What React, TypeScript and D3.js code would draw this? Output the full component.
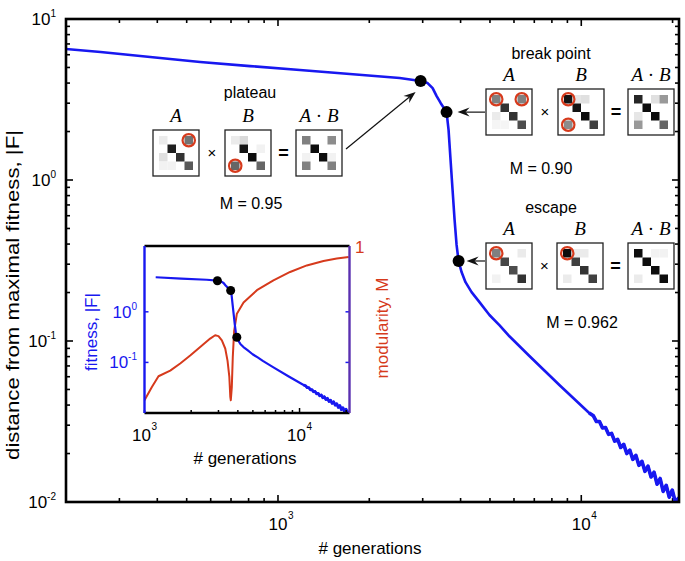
import React from "react";
import * as d3 from "d3";

// ---------- data ----------
const genMain = [
  200, 260, 379, 554, 809, 1181, 1725, 2519, 2953, 3114, 3235, 3335, 3437, 3596,
  3651, 3707, 3764, 3822, 3880, 3940, 4030, 4152, 4348, 4617, 4980, 5370, 5795,
  6745, 8468, 10620, 10965, 11220, 11482, 11749, 12023, 12303, 12589, 12882,
  13183, 13490, 13804, 14125, 14454, 14791, 15136, 15488, 15849, 16218, 16596,
  16982, 17378, 17783, 18197, 18621, 19055, 19498, 19953, 20417, 21000,
];
const fitMain = [
  6.51, 6.24, 5.81, 5.41, 5.1, 4.82, 4.55, 4.3, 4.12, 4.0, 3.72, 3.32, 3.01, 2.64,
  2.05, 1.33, 0.867, 0.565, 0.395, 0.314, 0.268, 0.232, 0.201, 0.1745, 0.145,
  0.1255, 0.107, 0.0807, 0.0533, 0.0357, 0.0343, 0.0316, 0.0316, 0.0288, 0.029,
  0.0263, 0.0267, 0.0239, 0.0245, 0.0218, 0.0228, 0.02, 0.021, 0.0184, 0.0195,
  0.0169, 0.0179, 0.0155, 0.0167, 0.0143, 0.0153, 0.0129, 0.014, 0.01164, 0.0127,
  0.01072, 0.01186, 0.01002, 0.01064,
];
const genMod = [
  1000, 1116, 1231, 1465, 1699, 1971, 2287, 2652, 2856, 3000, 3155, 3317, 3433,
  3525, 3576, 3603, 3656, 3710, 3786, 3944, 4353, 5309, 6786, 8692, 11140, 14272,
  17390, 20750,
];
const modValues = [
  0.9127, 0.9202, 0.9263, 0.9295, 0.9335, 0.938, 0.9428, 0.9476, 0.9495, 0.949,
  0.9466, 0.942, 0.935, 0.9259, 0.9146, 0.9127, 0.92, 0.937, 0.952, 0.9617, 0.968,
  0.975, 0.9806, 0.9853, 0.989, 0.9915, 0.9929, 0.9938,
];
const markerGen = [2953, 3596, 3940];
const markerFit = [4.12, 2.64, 0.314];

const xTickMajor = [1e3, 1e4];
const yTickMajor = [10, 1, 0.1, 0.01];
const xTickExp = ["3", "4"];
const yTickExp = ["1", "0", "-1", "-2"];
const insetYTicks = [1, 0.1];
const insetYExp = ["0", "-1"];

const stageNames = ["plateau", "break point", "escape"];
const stageM = ["M = 0.95", "M = 0.90", "M = 0.962"];

// matrices: darkness 0 (white) .. 1 (black)
const plateauA = [[0.08, 0, 0, 0.55], [0, 0.88, 0, 0], [0.12, 0, 0.8, 0], [0.05, 0.05, 0, 0.65]];
const plateauB = [[0.08, 0.15, 0, 0], [0, 0.92, 0, 0.05], [0, 0, 0.95, 0], [0.6, 0, 0, 0.6]];
const plateauAB = [[0.5, 0, 0, 0.45], [0, 0.95, 0, 0], [0.05, 0, 0.95, 0.05], [0.5, 0, 0, 0.5]];
const breakA = [[0.5, 0, 0, 0.5], [0, 0.8, 0, 0], [0.08, 0, 0.8, 0], [0.04, 0.04, 0, 0.7]];
const breakB = [[0.92, 0.1, 0.12, 0], [0, 0.92, 0, 0], [0, 0, 0.95, 0], [0.45, 0, 0, 0.75]];
const breakAB = [[0.85, 0, 0.12, 0.4], [0, 0.95, 0, 0], [0.1, 0, 0.95, 0], [0.4, 0, 0, 0.6]];
const escapeA = [[0.5, 0, 0, 0.08], [0, 0.72, 0, 0], [0, 0, 0.7, 0], [0.05, 0, 0, 0.8]];
const escapeB = [[0.95, 0.08, 0.08, 0], [0, 0.75, 0, 0], [0, 0, 0.8, 0], [0.08, 0, 0, 0.75]];
const escapeAB = [[0.95, 0, 0.05, 0.05], [0, 0.95, 0, 0], [0, 0, 0.95, 0], [0.08, 0, 0, 0.95]];
const plateauCircA = [[0, 3]];
const plateauCircB = [[3, 0]];
const breakCircA = [[0, 0], [0, 3]];
const breakCircB = [[0, 0], [3, 0]];
const escapeCircA = [[0, 0]];
const escapeCircB = [[0, 0]];

// ---------- styling ----------
const FONT = "Liberation Sans, Arial, sans-serif";
const SERIF = "Liberation Serif, DejaVu Serif, serif";
const BLUE = "#1818f0";
const RED = "#d63a1c";

function minorTicks(lo: number, hi: number) {
  const out: number[] = [];
  for (let e = -3; e <= 5; e++) {
    const dec = Math.pow(10, e);
    for (let k = 1; k <= 9; k++) {
      const v = k * dec;
      if (v >= lo * 0.999 && v <= hi * 1.001) out.push(v);
    }
  }
  return out;
}

function Matrix({ x0, y0, m, circles }: { x0: number; y0: number; m: number[][]; circles: number[][] }) {
  const S = 46, P = 6, C = 8.5;
  return (
    <g>
      <rect x={x0} y={y0} width={S} height={S} fill="#fff" stroke="#222" strokeWidth={1.3} />
      {m.map((row, r) =>
        row.map((v, c) =>
          v > 0 ? (
            <rect key={r + "-" + c} x={x0 + P + c * C} y={y0 + P + r * C} width={C} height={C}
              fill={d3.rgb(255 * (1 - v), 255 * (1 - v), 255 * (1 - v)).toString()} />
          ) : null
        )
      )}
      {circles.map(([r, c], i) => (
        <circle key={i} cx={x0 + P + (c + 0.5) * C} cy={y0 + P + (r + 0.5) * C} r={6.2}
          fill="none" stroke={RED} strokeWidth={2.2} />
      ))}
    </g>
  );
}

function Stage({ x0, y0, A, B, AB, cA, cB, dxB, dxAB }: any) {
  const S = 46;
  const bx = x0 + dxB, abx = x0 + dxAB;
  const lbl = (cx: number, t: any) => (
    <text x={cx} y={y0 - 8} textAnchor="middle" fontFamily={SERIF} fontSize={19}>{t}</text>
  );
  return (
    <g>
      {lbl(x0 + S / 2, <tspan fontStyle="italic">A</tspan>)}
      {lbl(bx + S / 2, <tspan fontStyle="italic">B</tspan>)}
      {lbl(abx + S / 2, <>
        <tspan fontStyle="italic">A</tspan>
        <tspan> · </tspan>
        <tspan fontStyle="italic">B</tspan>
      </>)}
      <Matrix x0={x0} y0={y0} m={A} circles={cA} />
      <Matrix x0={bx} y0={y0} m={B} circles={cB} />
      <Matrix x0={abx} y0={y0} m={AB} circles={[]} />
      <text x={(x0 + S + bx) / 2} y={y0 + S / 2 + 5} textAnchor="middle" fontFamily={FONT} fontSize={15}>×</text>
      <text x={(bx + S + abx) / 2} y={y0 + S / 2 + 6} textAnchor="middle" fontFamily={FONT} fontSize={18} fontWeight="bold">=</text>
    </g>
  );
}

function Arrow({ x1, y1, x2, y2 }: { x1: number; y1: number; x2: number; y2: number }) {
  const ang = Math.atan2(y2 - y1, x2 - x1);
  const L = 12, Wd = 4.5, notch = 4;
  const ux = Math.cos(ang), uy = Math.sin(ang);
  const px = -uy, py = ux;
  const bx = x2 - ux * L, by = y2 - uy * L;
  const nx = x2 - ux * (L - notch), ny = y2 - uy * (L - notch);
  const d = `M${x2},${y2} L${bx + px * Wd},${by + py * Wd} L${nx},${ny} L${bx - px * Wd},${by - py * Wd} Z`;
  return (
    <g>
      <line x1={x1} y1={y1} x2={nx} y2={ny} stroke="#111" strokeWidth={1.2} />
      <path d={d} fill="#111" />
    </g>
  );
}

export default function App() {
  const W = 685, H = 561;
  const L = 66, R = 679, T = 19, Bm = 502;
  const x = d3.scaleLog().domain([200, 21000]).range([L, R]);
  const y = d3.scaleLog().domain([0.01, 10]).range([Bm, T]);
  const mainPts: [number, number][] = genMain.map((g, i) => [g, fitMain[i]]);
  const mainLine = d3.line<[number, number]>().x((d) => x(d[0])).y((d) => y(d[1]));
  const tailPts = mainPts.filter((d) => d[0] >= 10000);

  // inset
  const iL = 144.5, iR = 349.5, iT = 246, iB = 413;
  const ix = d3.scaleLog().domain([1000, 21000]).range([iL, iR]);
  const iy = d3.scaleLog().domain([0.01, 20]).range([iB, iT]);
  const im = d3.scaleLinear().domain([0.9055, 1]).range([iB, iT]);
  const insetPts = mainPts.filter((d) => d[0] >= 1000);
  const insetFit = d3.line<[number, number]>().x((d) => ix(d[0])).y((d) => iy(d[1]));
  const modPts: [number, number][] = genMod.map((g, i) => [g, modValues[i]]);
  const modLine = d3.line<[number, number]>().x((d) => ix(d[0])).y((d) => im(d[1]));

  const xMinor = minorTicks(200, 21000);
  const yMinor = minorTicks(0.01, 10);
  const ixMinor = minorTicks(1000, 21000);

  const mx = markerGen.map((g) => x(g));
  const my = markerFit.map((f) => y(f));

  return (
    <svg width={W} height={H} style={{ position: "absolute", left: 0, top: 0, background: "#fff" }}>
      <defs>
        <clipPath id="mainClip"><rect x={L} y={T} width={R - L} height={Bm - T} /></clipPath>
        <clipPath id="insetClip"><rect x={iL} y={iT} width={iR - iL} height={iB - iT} /></clipPath>
      </defs>
      <rect x={0} y={0} width={W} height={H} fill="#fff" />

      {/* main ticks */}
      {xMinor.map((v, i) => {
        const major = xTickMajor.includes(v);
        const len = major ? 7 : 4;
        return (
          <g key={"xt" + i} stroke="#000" strokeWidth={1.6}>
            <line x1={x(v)} x2={x(v)} y1={Bm} y2={Bm - len} />
            <line x1={x(v)} x2={x(v)} y1={T} y2={T + len} />
          </g>
        );
      })}
      {yMinor.map((v, i) => {
        const major = yTickMajor.includes(v);
        const len = major ? 7 : 4;
        return (
          <g key={"yt" + i} stroke="#000" strokeWidth={1.6}>
            <line x1={L} x2={L + len} y1={y(v)} y2={y(v)} />
            <line x1={R} x2={R - len} y1={y(v)} y2={y(v)} />
          </g>
        );
      })}

      {/* main curve */}
      <g clipPath="url(#mainClip)">
        <path d={mainLine(mainPts) || ""} fill="none" stroke={BLUE} strokeWidth={2.6} strokeLinejoin="round" />
        <path d={mainLine(tailPts) || ""} fill="none" stroke={BLUE} strokeWidth={3.6} strokeLinejoin="round" />
      </g>

      {/* main frame */}
      <rect x={L} y={T} width={R - L} height={Bm - T} fill="none" stroke="#000" strokeWidth={2.6} />

      {/* main tick labels */}
      {xTickMajor.map((v, i) => (
        <g key={"xl" + i} fontFamily={FONT}>
          <text x={x(v)} y={530} textAnchor="middle" fontSize={17}>10</text>
          <text x={x(v) + 10} y={519} fontSize={10}>{xTickExp[i]}</text>
        </g>
      ))}
      {yTickMajor.map((v, i) => (
        <text key={"yl" + i} x={56} y={y(v) + 6} textAnchor="end" fontFamily={FONT} fontSize={17}>
          10<tspan dy={-8} fontSize={10}>{yTickExp[i]}</tspan>
        </text>
      ))}
      <text x={370} y={554} textAnchor="middle" fontFamily={FONT} fontSize={17}># generations</text>
      <text transform={`translate(19,295) rotate(-90) scale(1.17,1)`} textAnchor="middle" fontFamily={FONT} fontSize={19}>
        distance from maximal fitness, |F|
      </text>

      {/* markers */}
      {mx.map((px, i) => (
        <circle key={"m" + i} cx={px} cy={my[i]} r={6} fill="#000" />
      ))}

      {/* annotations */}
      <text x={250} y={98} textAnchor="middle" fontFamily={FONT} fontSize={16}>{stageNames[0]}</text>
      <text x={551} y={59} textAnchor="middle" fontFamily={FONT} fontSize={16}>{stageNames[1]}</text>
      <text x={551} y={213} textAnchor="middle" fontFamily={FONT} fontSize={16}>{stageNames[2]}</text>
      <Stage x0={153} y0={130} A={plateauA} B={plateauB} AB={plateauAB} cA={plateauCircA} cB={plateauCircB} dxB={72} dxAB={143} />
      <Stage x0={486} y0={89} A={breakA} B={breakB} AB={breakAB} cA={breakCircA} cB={breakCircB} dxB={72} dxAB={142} />
      <Stage x0={486} y0={243} A={escapeA} B={escapeB} AB={escapeAB} cA={escapeCircA} cB={escapeCircB} dxB={71} dxAB={142} />
      <text x={251} y={209} textAnchor="middle" fontFamily={FONT} fontSize={16}>{stageM[0]}</text>
      <text x={541} y={174} textAnchor="middle" fontFamily={FONT} fontSize={16}>{stageM[1]}</text>
      <text x={582} y={328} textAnchor="middle" fontFamily={FONT} fontSize={16}>{stageM[2]}</text>
      <Arrow x1={346} y1={149} x2={mx[0] - 5} y2={my[0] + 11} />
      <Arrow x1={485} y1={my[1]} x2={mx[1] + 11} y2={my[1]} />
      <Arrow x1={485} y1={my[2]} x2={mx[2] + 8} y2={my[2]} />

      {/* inset */}
      <rect x={iL} y={iT} width={iR - iL} height={iB - iT} fill="#fff" />
      <g clipPath="url(#insetClip)">
        <path d={modLine(modPts) || ""} fill="none" stroke={RED} strokeWidth={2} strokeLinejoin="round" />
        <path d={insetFit(insetPts) || ""} fill="none" stroke={BLUE} strokeWidth={2.2} strokeLinejoin="round" />
        <path d={insetFit(tailPts) || ""} fill="none" stroke={BLUE} strokeWidth={2.8} strokeLinejoin="round" />
      </g>
      {markerGen.map((g, i) => (
        <circle key={"im" + i} cx={ix(g)} cy={iy(markerFit[i])} r={4.5} fill="#000" />
      ))}
      {ixMinor.map((v, i) => (
        <line key={"ixt" + i} x1={ix(v)} x2={ix(v)} y1={iB} y2={iB - (v === 1e4 ? 5 : 3)} stroke="#000" strokeWidth={1.5} />
      ))}
      {insetYTicks.map((v, i) => (
        <g key={"iyt" + i} stroke={BLUE} strokeWidth={1.5}>
          <line x1={iL} x2={iL + 4} y1={iy(v)} y2={iy(v)} />
          <line x1={iR} x2={iR - 4} y1={iy(v)} y2={iy(v)} />
        </g>
      ))}
      <line x1={iL} x2={iR} y1={iT} y2={iT} stroke="#000" strokeWidth={2.4} />
      <line x1={iL} x2={iR} y1={iB} y2={iB} stroke="#000" strokeWidth={2.4} />
      <line x1={iL} x2={iL} y1={iT} y2={iB} stroke={BLUE} strokeWidth={2.4} />
      <line x1={iR} x2={iR} y1={iT} y2={iB} stroke="#5a30b0" strokeWidth={2.4} />

      {insetYTicks.map((v, i) => (
        <text key={"iyl" + i} x={137} y={iy(v) + 6} textAnchor="end" fontFamily={FONT} fontSize={17} fill={BLUE}>
          10<tspan dy={-8} fontSize={10}>{insetYExp[i]}</tspan>
        </text>
      ))}
      {xTickMajor.map((v, i) => (
        <g key={"ixl" + i} fontFamily={FONT}>
          <text x={ix(v) - 3} y={441} textAnchor="middle" fontSize={17}>10</text>
          <text x={ix(v) + 7} y={430} fontSize={10}>{xTickExp[i]}</text>
        </g>
      ))}
      <text x={245} y={464} textAnchor="middle" fontFamily={FONT} fontSize={17}># generations</text>
      <text transform={`translate(97,332) rotate(-90)`} textAnchor="middle" fontFamily={FONT} fontSize={17} fill={BLUE}>
        fitness, |F|
      </text>
      <text transform={`translate(388,328) rotate(-90)`} textAnchor="middle" fontFamily={FONT} fontSize={17} fill={RED}>
        modularity, M
      </text>
      <text x={355} y={253} fontFamily={FONT} fontSize={17} fill={RED}>1</text>
    </svg>
  );
}
